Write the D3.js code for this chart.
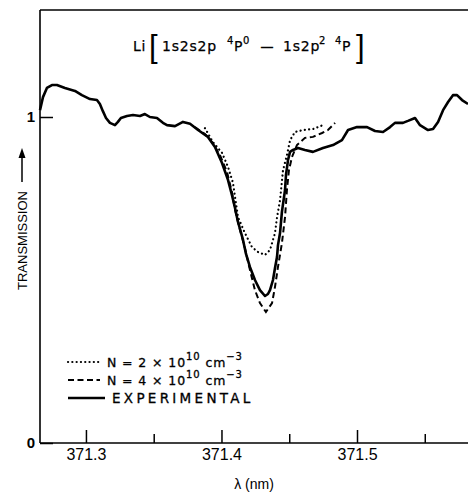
<!DOCTYPE html>
<html><head><meta charset="utf-8">
<script src="https://cdn.jsdelivr.net/npm/d3@7"></script>
<style>
body{margin:0;background:#fff;}
svg{display:block;}
</style></head>
<body>
<svg id="c" width="468" height="493"></svg>
<script>
// Experimental transmission (wavelength nm, transmission)
const expWave = [371.2661,371.2683,371.2712,371.2749,371.2786,371.2845,371.2919,371.2970,371.3030,371.3081,371.3103,371.3125,371.3148,371.3177,371.3214,371.3236,371.3258,371.3303,371.3347,371.3399,371.3435,371.3472,371.3524,371.3568,371.3598,371.3657,371.3716,371.3768,371.3827,371.3900,371.3952,371.4004,371.4048,371.4077,371.4100,371.4122,371.4159,371.4181,371.4210,371.4247,371.4284,371.4321,371.4343,371.4358,371.4380,371.4395,371.4410,371.4417,371.4432,371.4446,371.4469,371.4476,371.4491,371.4506,371.4528,371.4565,371.4616,371.4675,371.4749,371.4823,371.4889,371.4934,371.5000,371.5074,371.5133,371.5192,371.5244,371.5280,371.5339,371.5376,371.5428,371.5465,371.5524,371.5561,371.5598,371.5635,371.5672,371.5708,371.5738,371.5775,371.5819];
const expTrans = [1.021,1.061,1.089,1.098,1.098,1.089,1.080,1.067,1.055,1.052,1.040,1.018,0.997,0.982,0.975,0.985,0.997,1.003,1.006,1.003,1.009,1.000,0.997,0.982,0.975,0.972,0.985,0.979,0.960,0.939,0.908,0.859,0.807,0.761,0.721,0.678,0.623,0.580,0.540,0.500,0.469,0.451,0.457,0.469,0.500,0.537,0.571,0.607,0.644,0.709,0.776,0.822,0.868,0.893,0.899,0.905,0.899,0.893,0.905,0.914,0.929,0.960,0.969,0.969,0.957,0.954,0.969,0.982,0.982,0.988,0.997,0.975,0.960,0.963,0.985,1.021,1.046,1.067,1.067,1.052,1.040];
// Calculated, N = 2e10 cm^-3
const n2Wave = [371.3878,371.3937,371.4004,371.4048,371.4085,371.4100,371.4122,371.4173,371.4225,371.4269,371.4321,371.4358,371.4395,371.4410,371.4432,371.4454,371.4483,371.4506,371.4542,371.4601,371.4675,371.4749];
const n2Trans = [0.966,0.923,0.890,0.847,0.798,0.755,0.693,0.644,0.601,0.586,0.577,0.592,0.644,0.693,0.745,0.837,0.883,0.929,0.954,0.960,0.963,0.975];
// Calculated, N = 4e10 cm^-3
const n4Wave = [371.3804,371.3878,371.3937,371.3989,371.4041,371.4077,371.4100,371.4137,371.4173,371.4210,371.4247,371.4284,371.4328,371.4373,371.4395,371.4417,371.4446,371.4469,371.4483,371.4498,371.4520,371.4557,371.4616,371.4675,371.4742,371.4786,371.4838];
const n4Trans = [0.969,0.948,0.920,0.883,0.831,0.770,0.715,0.653,0.598,0.531,0.469,0.429,0.402,0.429,0.479,0.540,0.613,0.693,0.776,0.837,0.877,0.914,0.936,0.939,0.951,0.960,0.982];

const majorTicks = [371.3, 371.4, 371.5];
const minorTicks = [371.35, 371.45, 371.55];
const majorLabels = ["371.3", "371.4", "371.5"];
const yTicks = [0, 1];
const yLabels = ["0", "1"];

const svg = d3.select("#c");
const L = 40, R = 468, T = 10, B = 443;
const x = d3.scaleLinear().domain([371.2661, 371.5819]).range([L, R]);
const y = d3.scaleLinear().domain([0, 1]).range([B, 117]);

// frame: top border
svg.append("line").attr("x1", L).attr("x2", R).attr("y1", T).attr("y2", T)
  .attr("stroke", "#000").attr("stroke-width", 1.6);

// x axis (ticks pointing up)
const gx = svg.append("g").attr("transform", `translate(0,${B})`);
gx.call(d3.axisBottom(x).tickValues(majorTicks).tickSize(-13)
  .tickFormat((d, i) => majorLabels[i]));
gx.append("g").call(d3.axisBottom(x).tickValues(minorTicks).tickSize(-9).tickFormat(""))
  .select(".domain").remove();
gx.selectAll(".domain").attr("d", `M${L},0H${R}`).attr("stroke-width", 1.6);
gx.selectAll(".tick line").attr("stroke-width", 1.5);
gx.selectAll(".tick text").attr("y", 17).attr("dy", 0)
  .attr("font-family", "Liberation Sans, Arial, sans-serif").attr("font-size", 16)
  .attr("fill", "#000");

// y axis
const gy = svg.append("g").attr("transform", `translate(${L},0)`);
gy.call(d3.axisLeft(y).tickValues(yTicks).tickSize(-13).tickFormat((d, i) => yLabels[i]));
gy.selectAll(".domain").attr("d", `M0,${T}V${B}`).attr("stroke-width", 1.6);
gy.selectAll(".tick line").attr("stroke-width", 1.5);
gy.selectAll(".tick text").attr("x", -5)
  .attr("font-family", "Liberation Sans, Arial, sans-serif").attr("font-size", 15)
  .attr("font-weight", "bold").attr("fill", "#000");

// curves
const line = d3.line().x(d => x(d[0])).y(d => y(d[1])).curve(d3.curveLinear);
const zip = (a, b) => a.map((v, i) => [v, b[i]]);

svg.append("path").datum(zip(n2Wave, n2Trans)).attr("d", line)
  .attr("fill", "none").attr("stroke", "#000").attr("stroke-width", 2.2)
  .attr("stroke-linecap", "round").attr("stroke-dasharray", "0.1,4.2");
svg.append("path").datum(zip(n4Wave, n4Trans)).attr("d", line)
  .attr("fill", "none").attr("stroke", "#000").attr("stroke-width", 2)
  .attr("stroke-dasharray", "6,3.5");
svg.append("path").datum(zip(expWave, expTrans)).attr("d", line)
  .attr("fill", "none").attr("stroke", "#000").attr("stroke-width", 2.6)
  .attr("stroke-linejoin", "round");

// axis titles
svg.append("text").attr("x", 254).attr("y", 489).attr("text-anchor", "middle")
  .attr("font-family", "Liberation Sans, Arial, sans-serif").attr("font-size", 14)
  .text("λ (nm)");
svg.append("text").attr("transform", "translate(27,290) rotate(-90)")
  .attr("font-family", "Liberation Sans, Arial, sans-serif").attr("font-size", 13)
  .text("TRANSMISSION");
svg.append("line").attr("x1", 22).attr("x2", 22).attr("y1", 182).attr("y2", 156)
  .attr("stroke", "#000").attr("stroke-width", 1.5);
svg.append("path").attr("d", "M22,148 L18.5,158 L25.5,158 Z").attr("fill", "#000");

// title
const tf = "DejaVu Sans, Verdana, sans-serif";
function t(xp, yp, s, size, extra) {
  const e = svg.append("text").attr("x", xp).attr("y", yp).attr("font-family", tf)
    .attr("font-size", size).attr("letter-spacing", 0.8)
    .attr("stroke", "#000").attr("stroke-width", 0.25).text(s);
  if (extra) extra(e);
  return e;
}
const brk = e => e.attr("letter-spacing", 0).attr("stroke-width", 0)
  .attr("font-family", "Liberation Sans, Arial, sans-serif");
t(133, 51, "Li", 14);
t(149, 57, "[", 31, brk);
t(162, 51, "1s2s2p", 14);
t(227, 44, "4", 10);
t(234, 51, "P", 14);
t(243, 44, "0", 10);
t(261, 51, "–", 14, e => e.attr("transform", "translate(-262,0) scale(2,1)").attr("x", 261).attr("letter-spacing", 0).attr("stroke-width", 0.5));
t(283, 51, "1s2p", 14);
t(319, 44, "2", 10);
t(335, 44, "4", 10);
t(342, 51, "P", 14);
t(356, 57, "]", 31, brk);

// legend
const legendRows = [
  {y: 362, dash: "0.1,4.2", w: 2.2, cap: "round"},
  {y: 380, dash: "6,3.5", w: 2, cap: "butt"},
  {y: 398, dash: null, w: 2.6, cap: "butt"}
];
legendRows.forEach(r => {
  const l = svg.append("line").attr("x1", 68).attr("x2", r.dash ? 100 : 105)
    .attr("y1", r.y).attr("y2", r.y).attr("stroke", "#000")
    .attr("stroke-width", r.w).attr("stroke-linecap", r.cap);
  if (r.dash) l.attr("stroke-dasharray", r.dash);
});
function legText(yb, nval) {
  const e = svg.append("text").attr("x", 107).attr("y", yb).attr("font-family", tf)
    .attr("font-size", 12.5).attr("letter-spacing", 0.9).attr("xml:space", "preserve")
    .attr("stroke", "#000").attr("stroke-width", 0.3);
  e.append("tspan").text("N = " + nval + " × 10");
  e.append("tspan").attr("dy", -7).attr("font-size", 10).text("10");
  e.append("tspan").attr("dy", 7).text(" cm");
  e.append("tspan").attr("dy", -7).attr("font-size", 10).text("−3");
}
legText(367, "2");
legText(385, "4");
svg.append("text").attr("x", 112).attr("y", 403).attr("font-family", tf)
  .attr("font-size", 13.5).attr("letter-spacing", 3.3)
  .attr("stroke", "#000").attr("stroke-width", 0.3).text("EXPERIMENTAL");
</script>
</body></html>
